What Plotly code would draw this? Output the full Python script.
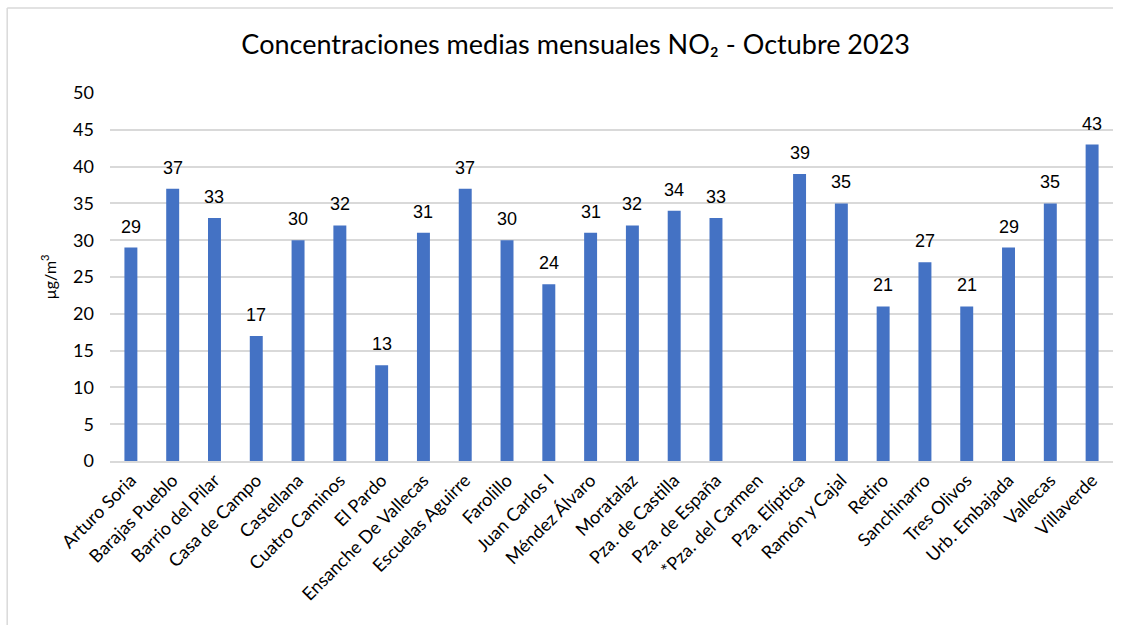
import plotly.graph_objects as go

stations = ["Arturo Soria", "Barajas Pueblo", "Barrio del Pilar", "Casa de Campo", "Castellana",
            "Cuatro Caminos", "El Pardo", "Ensanche De Vallecas", "Escuelas Aguirre", "Farolillo",
            "Juan Carlos I", "Méndez Álvaro", "Moratalaz", "Pza. de Castilla", "Pza. de España",
            "*Pza. del Carmen", "Pza. Elíptica", "Ramón y Cajal", "Retiro", "Sanchinarro",
            "Tres Olivos", "Urb. Embajada", "Vallecas", "Villaverde"]
no2 = [29, 37, 33, 17, 30, 32, 13, 31, 37, 30, 24, 31, 32, 34, 33, None, 39, 35, 21, 27, 21, 29, 35, 43]
y_ticks = [0, 5, 10, 15, 20, 25, 30, 35, 40, 45, 50]

fig = go.Figure(go.Bar(
    x=stations, y=no2,
    marker=dict(color="#4472C4", line=dict(width=0)),
    hoverinfo="x+y",
))

# data labels above bars, positioned in data coordinates
for s, v in zip(stations, no2):
    if v is None:
        continue
    fig.add_annotation(x=s, y=v, text=str(v), showarrow=False, yanchor="bottom",
                       yshift=9, font=dict(family="Liberation Sans, Arial", size=18, color="#000000"))

fig.update_layout(
    width=1131, height=625,
    paper_bgcolor="white", plot_bgcolor="white",
    margin=dict(l=110, r=18, t=93, b=164),
    bargap=0.69,
    showlegend=False,
    title=dict(text="Concentraciones medias mensuales NO₂ - Octubre 2023",
               x=0.509, xanchor="center", y=0.928, yanchor="middle",
               font=dict(family="Lato, sans-serif", size=27, color="#000000")),
    xaxis=dict(tickangle=-45, tickfont=dict(family="Lato", size=18, color="#000000"),
               showline=True, linecolor="#D9D9D9", linewidth=1.5, ticks="", showgrid=False),
    yaxis=dict(range=[0, 50], tickvals=y_ticks, showgrid=True, gridcolor="#D9D9D9", gridwidth=1.5,
               tickfont=dict(family="Lato", size=18, color="#000000"),
               zeroline=False, ticks="", ticklabelstandoff=15,
               title=dict(text="µg/m<sup>3</sup>", standoff=12,
                          font=dict(family="Lato", size=16, color="#000000"))),
)
# light chart-area border (left and top edges visible in the reference)
fig.add_shape(type="line", xref="paper", yref="paper", x0=-0.1025, x1=1.0, y0=1.231, y1=1.231,
              line=dict(color="#D9D9D9", width=1.5))
fig.add_shape(type="line", xref="paper", yref="paper", x0=-0.1025, x1=-0.1025, y0=-0.5, y1=1.231,
              line=dict(color="#D9D9D9", width=1.5))

fig.write_html("out.html", config={"displayModeBar": False},
               post_script="document.body.style.margin='0';")
